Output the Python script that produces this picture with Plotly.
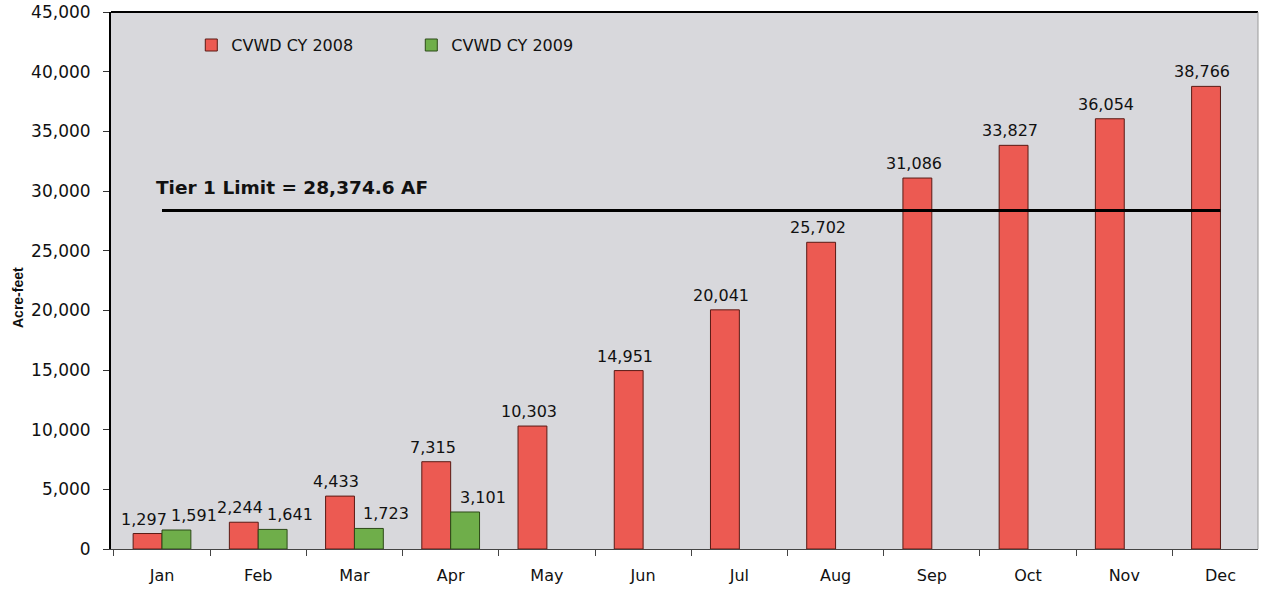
import plotly.graph_objects as go

months = ["Jan", "Feb", "Mar", "Apr", "May", "Jun", "Jul", "Aug", "Sep", "Oct", "Nov", "Dec"]
cy2008 = [1297, 2244, 4433, 7315, 10303, 14951, 20041, 25702, 31086, 33827, 36054, 38766]
cy2009 = [1591, 1641, 1723, 3101, None, None, None, None, None, None, None, None]
tier1_limit = 28374.6
tier1_label = "Tier 1 Limit = 28,374.6 AF"
y_ticks = [0, 5000, 10000, 15000, 20000, 25000, 30000, 35000, 40000, 45000]

font_family = "DejaVu Sans"
label_font = dict(size=16, color="#111", family=font_family)

fig = go.Figure()
fig.add_trace(go.Bar(
    name="CVWD CY 2008", x=months, y=cy2008,
    marker=dict(color="#ec5a52", line=dict(color="#5a1a14", width=1)),
))
fig.add_trace(go.Bar(
    name="CVWD CY 2009", x=months, y=cy2009,
    marker=dict(color="#6fae4a", line=dict(color="#2d4a18", width=1)),
))
fig.add_trace(go.Scatter(
    x=[months[0], months[-1]], y=[tier1_limit, tier1_limit], mode="lines",
    line=dict(color="black", width=3), showlegend=False, hoverinfo="skip",
))

# value labels (2008 labels roughly centred over bars, 2009 labels nudged right as in the original)
for m, v in zip(months, cy2008):
    fig.add_annotation(x=m, y=v, xref="x", yref="y", text=f"{v:,}", showarrow=False,
                       xanchor="center", yanchor="bottom", xshift=-18, yshift=3,
                       font=label_font)
for m, v in zip(months, cy2009):
    if v is not None:
        fig.add_annotation(x=m, y=v, xref="x", yref="y", text=f"{v:,}", showarrow=False,
                           xanchor="center", yanchor="bottom", xshift=32, yshift=3,
                           font=label_font)

fig.add_annotation(
    x=months[0], y=tier1_limit, xref="x", yref="y", text="<b>" + tier1_label + "</b>",
    showarrow=False, xanchor="left", yanchor="bottom", xshift=-8, yshift=10,
    font=dict(size=18.5, color="#111", family="DejaVu Sans"),
)
fig.add_annotation(
    x=-0.0815, y=0.5, xref="paper", yref="paper", text="<b>Acre-feet</b>",
    showarrow=False, textangle=-90, xanchor="center", yanchor="middle", yshift=-17,
    font=dict(size=14, color="#111", family="Liberation Sans"),
)

fig.update_layout(
    width=1263, height=591,
    margin=dict(l=111, r=5, t=12, b=42),
    paper_bgcolor="white", plot_bgcolor="#d8d8dc",
    barmode="group", bargap=0.4, bargroupgap=0.0,
    font=dict(family=font_family, size=15, color="#111"),
    legend=dict(orientation="h", x=0.070, y=0.970, xanchor="left", yanchor="top",
                bgcolor="rgba(0,0,0,0)", font=dict(size=16),
                traceorder="normal", entrywidthmode="pixels", entrywidth=175),
    showlegend=True,
)
fig.update_xaxes(
    range=[-0.53, 11.39],
    showgrid=False, showline=True, linecolor="#444", linewidth=1, automargin=False,
    ticks="outside", tickson="boundaries", ticklen=6, tickcolor="#444",
    tickfont=dict(size=16, family=font_family), ticklabelstandoff=12,
)
fig.update_yaxes(
    range=[0, 45000], tickvals=y_ticks, tickformat=",", automargin=False,
    showgrid=False, showline=True, linecolor="black", linewidth=2, mirror=False,
    ticks="outside", ticklen=6, tickcolor="#333", zeroline=False,
    tickfont=dict(size=17, family=font_family), ticklabeloverflow="allow",
    ticklabelstandoff=9,
)
fig.add_shape(type="line", xref="paper", yref="paper", x0=0, x1=1, y0=1, y1=1,
              line=dict(color="black", width=2))
fig.add_shape(type="line", xref="paper", yref="paper", x0=1, x1=1, y0=0, y1=1,
              line=dict(color="#9a9a9a", width=1))

fig.write_html("out.html", config={"displayModeBar": False},
               post_script="document.body.style.margin='0';")
